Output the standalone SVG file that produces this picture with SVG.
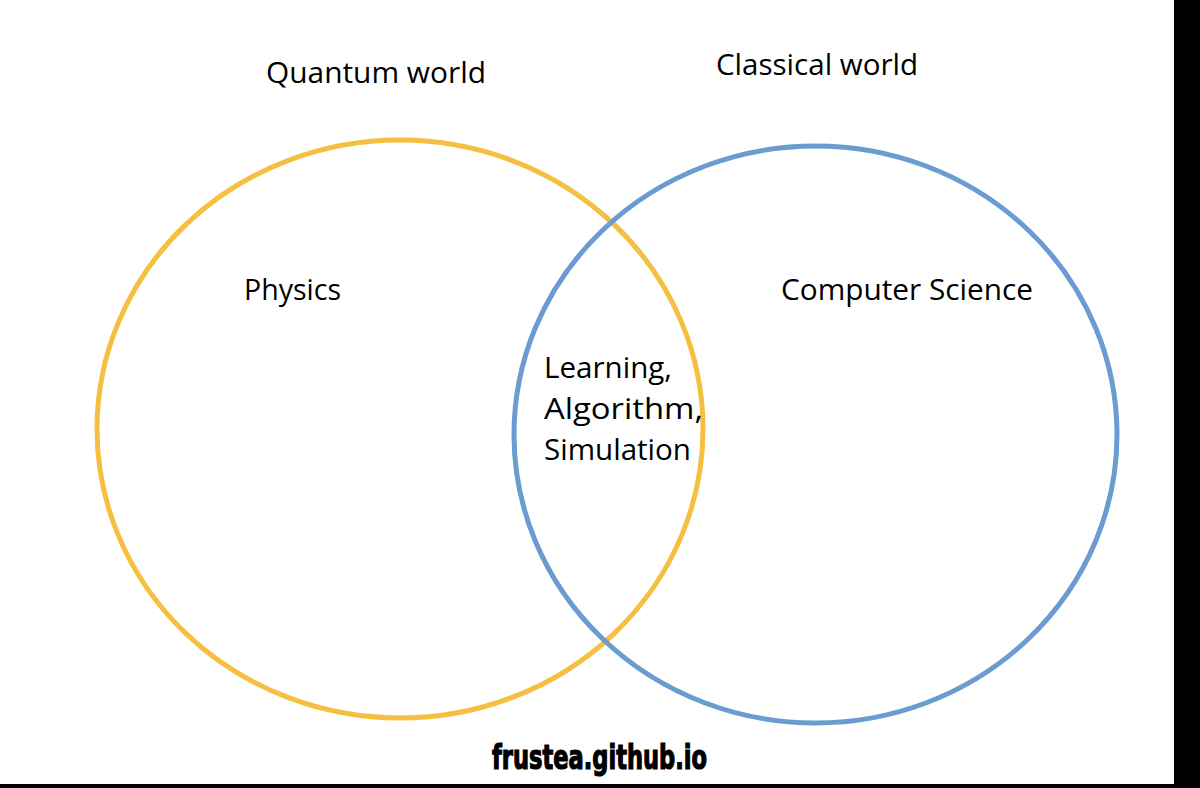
<svg xmlns="http://www.w3.org/2000/svg" width="1200" height="788" viewBox="0 0 1200 788">
<style>
.lbl{font-family:"Open Sans","Liberation Sans",sans-serif;font-size:29px;fill:#000}
.ring{fill:none;stroke-width:5}
.wm{font-family:"Liberation Sans Narrow","DejaVu Sans Condensed","Liberation Sans",sans-serif;font-weight:bold;font-size:34px;fill:#000;stroke:#000;stroke-width:1.2}
</style>
<rect x="0" y="0" width="1200" height="788" fill="#fff"/>
<rect x="1174" y="0" width="26" height="788" fill="#000"/>
<rect x="0" y="784" width="1200" height="4" fill="#000"/>
<g id="quantum">
<ellipse class="ring" cx="400" cy="429" rx="303" ry="289" stroke="#F5BF41"/>
<text class="lbl" x="266" y="83" textLength="220" lengthAdjust="spacingAndGlyphs">Quantum world</text>
<text class="lbl" x="244" y="300" textLength="97" lengthAdjust="spacingAndGlyphs">Physics</text>
</g>
<g id="classical">
<ellipse class="ring" cx="815.5" cy="434.5" rx="301.5" ry="288.5" stroke="#6A9BD1"/>
<text class="lbl" x="716" y="75" textLength="202" lengthAdjust="spacingAndGlyphs">Classical world</text>
<text class="lbl" x="781" y="300" textLength="252" lengthAdjust="spacingAndGlyphs">Computer Science</text>
</g>
<g id="overlap">
<text class="lbl" x="544" y="378" textLength="128" lengthAdjust="spacingAndGlyphs">Learning,</text>
<text class="lbl" x="544" y="419" textLength="159" lengthAdjust="spacingAndGlyphs">Algorithm,</text>
<text class="lbl" x="544" y="460" textLength="147" lengthAdjust="spacingAndGlyphs">Simulation</text>
</g>
<g id="connectors"></g>
<text class="wm" x="492" y="769" textLength="215" lengthAdjust="spacingAndGlyphs">frustea.github.io</text>
</svg>
